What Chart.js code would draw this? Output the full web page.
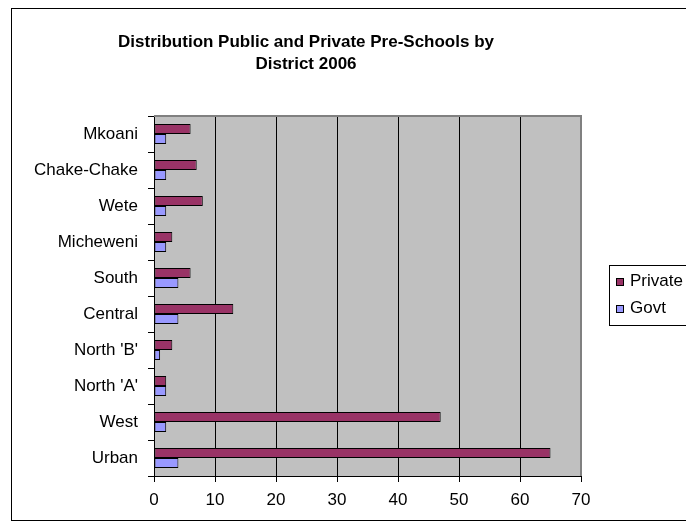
<!DOCTYPE html>
<html>
<head>
<meta charset="utf-8">
<script src="https://cdn.jsdelivr.net/npm/chart.js@4.4.1/dist/chart.umd.min.js"></script>
<style>
  html, body { margin: 0; padding: 0; background: #ffffff; }
  #graph { width: 686px; height: 528px; }
</style>
</head>
<body>
<div id="graph"><canvas id="chartCanvas" width="686" height="528"></canvas></div>
<script>
// Données du graphique
var districts = ['Mkoani', 'Chake-Chake', 'Wete', 'Micheweni', 'South', 'Central', "North 'B'", "North 'A'", 'West', 'Urban'];
var privateSchools = [6, 7, 8, 3, 6, 13, 3, 2, 47, 65];
var govtSchools = [2, 2, 2, 2, 4, 4, 1, 2, 2, 4];
var seriesNames = ['Private', 'Govt'];
var seriesColors = ['#993366', '#9999FF'];
var titleLines = ['Distribution Public and Private Pre-Schools by', 'District 2006'];

var FONT = 'Liberation Sans, Arial, sans-serif';

// Cadre, titre, bordure de la zone de tracé et légende
var decorPlugin = {
    id: 'decor',
    beforeDraw: function (chart) {
        var ctx = chart.ctx;
        var a = chart.chartArea;
        ctx.save();
        ctx.fillStyle = '#ffffff';
        ctx.fillRect(0, 0, chart.width, chart.height);
        ctx.fillStyle = '#C0C0C0';
        ctx.fillRect(a.left, a.top, a.right - a.left, a.bottom - a.top);
        ctx.restore();
    },
    afterDraw: function (chart) {
        var ctx = chart.ctx;
        var a = chart.chartArea;
        ctx.save();
        // bordure grise haut/droite
        ctx.strokeStyle = '#808080';
        ctx.lineWidth = 2;
        ctx.beginPath();
        ctx.moveTo(a.left, a.top);
        ctx.lineTo(a.right, a.top);
        ctx.lineTo(a.right, a.bottom);
        ctx.stroke();

        // cadre extérieur
        ctx.strokeStyle = '#000000';
        ctx.lineWidth = 1;
        ctx.strokeRect(11.5, 8.5, 700, 512);

        // titre
        ctx.fillStyle = '#000000';
        ctx.font = 'bold 17px ' + FONT;
        ctx.textAlign = 'center';
        ctx.textBaseline = 'middle';
        ctx.fillText(titleLines[0], 306, 42);
        ctx.fillText(titleLines[1], 306, 64);

        // légende
        ctx.strokeRect(609.5, 265.5, 100, 60);
        ctx.font = '17px ' + FONT;
        ctx.textAlign = 'left';
        var ys = [281, 308];
        for (var i = 0; i < seriesNames.length; i++) {
            ctx.fillStyle = seriesColors[i];
            ctx.fillRect(616, ys[i] - 3, 8, 8);
            ctx.strokeRect(616.5, ys[i] - 2.5, 7, 7);
            ctx.fillStyle = '#000000';
            ctx.fillText(seriesNames[i], 630, ys[i]);
        }
        ctx.restore();
    }
};

var chart = new Chart(document.getElementById('chartCanvas'), {
    type: 'bar',
    data: {
        labels: districts,
        datasets: [{
            label: seriesNames[0],
            data: privateSchools,
            backgroundColor: seriesColors[0],
            borderColor: '#000000',
            borderWidth: 1,
            borderSkipped: false
        }, {
            label: seriesNames[1],
            data: govtSchools,
            backgroundColor: seriesColors[1],
            borderColor: '#000000',
            borderWidth: 1,
            borderSkipped: false
        }]
    },
    options: {
        indexAxis: 'y',
        responsive: false,
        animation: false,
        devicePixelRatio: 1,
        categoryPercentage: 0.556,
        barPercentage: 1,
        layout: { padding: { left: 14, top: 116, right: 105, bottom: 12 } },
        plugins: {
            legend: { display: false },
            title: { display: false },
            tooltip: { enabled: false }
        },
        scales: {
            x: {
                min: 0,
                max: 70,
                ticks: { stepSize: 10, color: '#000000', font: { family: FONT, size: 17 }, padding: 8 },
                grid: { color: '#000000', lineWidth: 1, drawTicks: true, tickLength: 6 },
                border: { color: '#000000', width: 1 },
                afterFit: function (s) { s.height = 40; }
            },
            y: {
                ticks: { color: '#000000', font: { family: FONT, size: 17 }, padding: 10 },
                grid: { offset: true, drawOnChartArea: false, drawTicks: true, tickLength: 6, color: '#000000' },
                border: { color: '#000000', width: 1 },
                afterFit: function (s) { s.width = 140; }
            }
        }
    },
    plugins: [decorPlugin]
});
</script>
</body>
</html>
